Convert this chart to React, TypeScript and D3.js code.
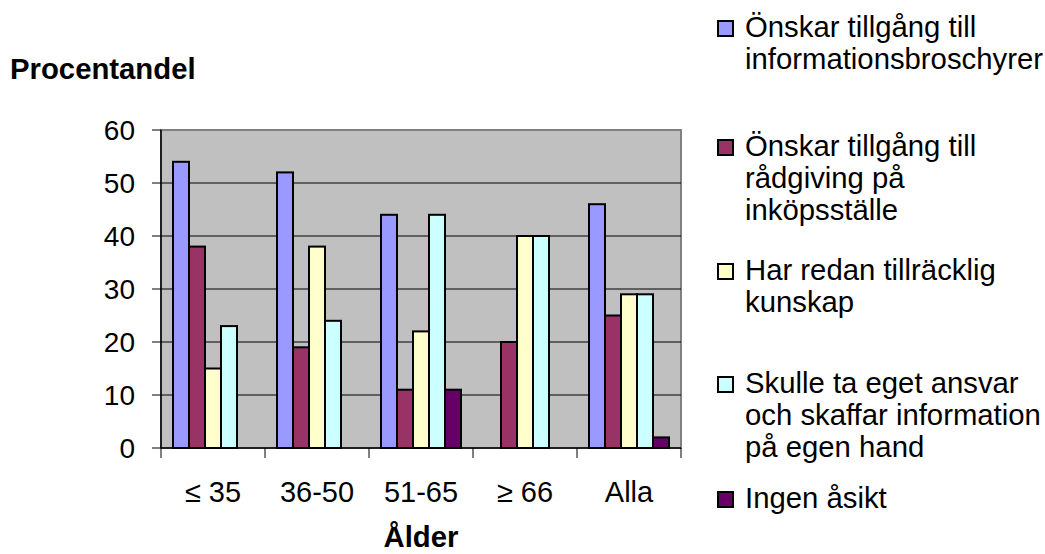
import React from "react";
import * as d3 from "d3";

// Age groups on the x axis
const categories = ["≤ 35", "36-50", "51-65", "≥ 66", "Alla"];

// Series values (percent) per age group
const informationsbroschyrer = [54, 52, 44, 0, 46];
const radgivning = [38, 19, 11, 20, 25];
const tillrackligKunskap = [15, 38, 22, 40, 29];
const egetAnsvar = [23, 24, 44, 40, 29];
const ingenAsikt = [0, 0, 11, 0, 2];

const seriesValues = [informationsbroschyrer, radgivning, tillrackligKunskap, egetAnsvar, ingenAsikt];

// Legend labels, already split into lines
const seriesLabels = [
  ["Önskar tillgång till", "informationsbroschyrer"],
  ["Önskar tillgång till", "rådgiving på", "inköpsställe"],
  ["Har redan tillräcklig", "kunskap"],
  ["Skulle ta eget ansvar", "och skaffar information", "på egen hand"],
  ["Ingen åsikt"],
];
const seriesColors = ["#9999FF", "#993366", "#FFFFCC", "#CCFFFF", "#660066"];

const yTicks = [0, 10, 20, 30, 40, 50, 60];

const W = 1045;
const H = 554;
const plot = { left: 161, right: 681, top: 130, bottom: 448 };
const FONT = "Liberation Sans, Arial, Helvetica, sans-serif";

// Legend layout: first-line baseline per entry and line spacing
const legendBaselines = [37, 156, 280, 393, 508];
const legendLineStep = 32;

export default function App() {
  const y = d3.scaleLinear().domain([0, 60]).range([plot.bottom, plot.top]);
  const x0 = d3.scaleBand<string>().domain(categories).range([plot.left, plot.right]).padding(0);
  const keys = seriesValues.map((_, i) => String(i));
  const x1 = d3
    .scaleBand<string>()
    .domain(keys)
    .range([0, x0.bandwidth()])
    .paddingInner(0)
    .paddingOuter(0.75);

  const boundaries = [...categories.map((c) => x0(c) as number), plot.right];

  return (
    <svg width={W} height={H} style={{ position: "absolute", left: 0, top: 0, fontFamily: FONT }}>
      <rect x={0} y={0} width={W} height={H} fill="#fff" />
      {/* plot background */}
      <rect
        x={plot.left}
        y={plot.top}
        width={plot.right - plot.left}
        height={plot.bottom - plot.top}
        fill="#C0C0C0"
        stroke="#808080"
        strokeWidth={2}
      />
      {/* gridlines */}
      {yTicks.slice(1, -1).map((t) => (
        <line key={t} x1={plot.left} x2={plot.right} y1={y(t)} y2={y(t)} stroke="#000" strokeWidth={1} />
      ))}
      {/* bars */}
      {categories.map((c, ci) =>
        seriesValues.map((vals, si) => {
          const v = vals[ci];
          if (!v) return null;
          const bx = (x0(c) as number) + (x1(String(si)) as number);
          return (
            <rect
              key={c + si}
              x={bx}
              y={y(v)}
              width={x1.bandwidth()}
              height={y(0) - y(v)}
              fill={seriesColors[si]}
              stroke="#000"
              strokeWidth={2}
            />
          );
        })
      )}
      {/* axes */}
      <line x1={plot.left} x2={plot.left} y1={plot.top} y2={plot.bottom} stroke="#000" strokeWidth={1.5} />
      <line x1={plot.left} x2={plot.right} y1={plot.bottom} y2={plot.bottom} stroke="#000" strokeWidth={1.5} />
      {yTicks.map((t) => (
        <g key={t}>
          <line x1={plot.left - 9} x2={plot.left} y1={y(t)} y2={y(t)} stroke="#000" strokeWidth={1} />
          <text x={135} y={y(t) + 10} textAnchor="end" fontSize={28} fill="#000">
            {t}
          </text>
        </g>
      ))}
      {boundaries.map((bx, i) => (
        <line key={i} x1={bx} x2={bx} y1={plot.bottom} y2={plot.bottom + 10} stroke="#000" strokeWidth={1} />
      ))}
      {categories.map((c) => (
        <text
          key={c}
          x={(x0(c) as number) + x0.bandwidth() / 2}
          y={502}
          textAnchor="middle"
          fontSize={29}
          fill="#000"
        >
          {c}
        </text>
      ))}
      {/* titles */}
      <text x={10} y={79} fontSize={29.3} fontWeight="bold" fill="#000">
        Procentandel
      </text>
      <text x={421} y={547} textAnchor="middle" fontSize={29.3} fontWeight="bold" fill="#000">
        Ålder
      </text>
      {/* legend */}
      {seriesLabels.map((lines, i) => {
        const b = legendBaselines[i];
        return (
          <g key={i}>
            <rect x={718} y={b - 16} width={15} height={15} fill={seriesColors[i]} stroke="#000" strokeWidth={2} />
            {lines.map((ln, li) => (
              <text key={li} x={745} y={b + li * legendLineStep} fontSize={29.3} fill="#000">
                {ln}
              </text>
            ))}
          </g>
        );
      })}
    </svg>
  );
}
